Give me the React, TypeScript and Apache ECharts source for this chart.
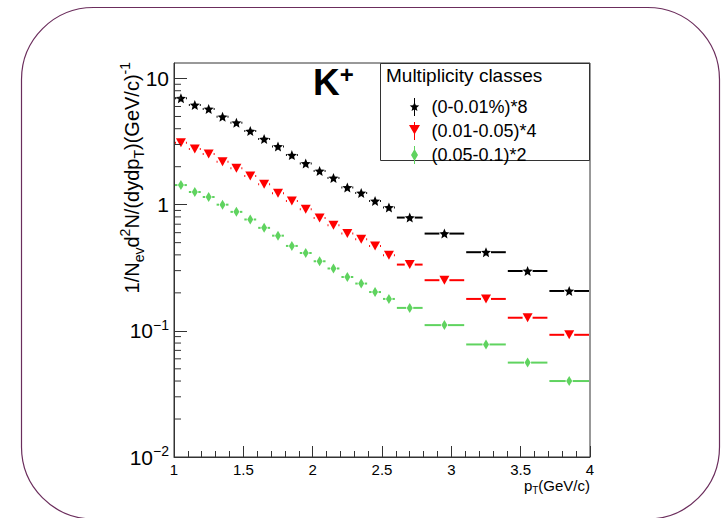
import React, { useEffect, useRef } from "react";
import * as echarts from "echarts";

// pT bin edges (GeV/c)
const ptBinEdges = [1.0, 1.1, 1.2, 1.3, 1.4, 1.5, 1.6, 1.7, 1.8, 1.9, 2.0, 2.1, 2.2, 2.3, 2.4, 2.5, 2.6, 2.8, 3.1, 3.4, 3.7, 4.0];

const seriesNames = ["(0-0.01%)*8", "(0.01-0.05)*4", "(0.05-0.1)*2"];
const seriesColors = ["#000000", "#ff0000", "#5fd35f"];

// scaled yields per class
const yieldClass1 = [6.97, 6.16, 5.73, 4.97, 4.46, 3.83, 3.31, 2.89, 2.47, 2.12, 1.85, 1.63, 1.37, 1.24, 1.07, 0.95, 0.79, 0.59, 0.42, 0.298, 0.207];
const yieldClass2 = [3.09, 2.76, 2.52, 2.19, 1.94, 1.69, 1.45, 1.23, 1.07, 0.92, 0.785, 0.688, 0.59, 0.532, 0.471, 0.397, 0.335, 0.252, 0.179, 0.127, 0.093];
const yieldClass3 = [1.43, 1.26, 1.15, 1.0, 0.877, 0.763, 0.655, 0.568, 0.471, 0.414, 0.356, 0.312, 0.267, 0.237, 0.203, 0.179, 0.152, 0.111, 0.078, 0.056, 0.040];

const yMajorLabels: Record<string, string> = {
  "-2": "10{s|−2}",
  "-1": "10{s|−1}",
  "0": "1",
  "1": "10",
};

const FONT = "Liberation Sans, Arial, Helvetica, sans-serif";

const starPath =
  "path://M0,-10L2.645,-3.64L9.51,-3.09L4.28,1.39L5.878,8.09L0,4.5L-5.878,8.09L-4.28,1.39L-9.51,-3.09L-2.645,-3.64Z";
const legendIcons = [
  "path://M6,4L7.32,7.18L10.76,7.45L8.14,9.70L8.94,13.05L6,11.25L3.06,13.05L3.86,9.70L1.24,7.45L4.68,7.18ZM5.5,0H6.5V18H5.5Z",
  "path://M0.5,3H11.5L6,12.5ZM5.5,0H6.5V18H5.5Z",
  "path://M6,3L9.5,9L6,15L2.5,9ZM5.5,0H6.5V18H5.5Z",
];

export default function App() {
  const ref = useRef<HTMLDivElement>(null);

  useEffect(() => {
    if (!ref.current) return;
    const chart = echarts.init(ref.current, undefined, { renderer: "svg" });

    const centers = ptBinEdges.slice(0, -1).map((e, i) => (e + ptBinEdges[i + 1]) / 2);
    const allYields = [yieldClass1, yieldClass2, yieldClass3];

    // log minor ticks 2..9 x 10^n
    const yMinorTicks: number[] = [];
    for (let n = -2; n <= 1; n++) {
      for (let k = 2; k <= 9; k++) {
        const v = k * Math.pow(10, n);
        if (v < 13.27) yMinorTicks.push(v);
      }
    }

    const gaps = [5, 5, 3.5];
    const symbols: any[] = [starPath, "triangle", "diamond"];
    const symbolSizes: any[] = [10, [10, 9], [6, 10]];
    const symbolRotates = [0, 180, 0];

    const errSeries = allYields.map((vals, s) => ({
      type: "custom",
      name: "err" + s,
      silent: true,
      clip: false,
      z: 3,
      dimensions: ["x", "y", "lo", "hi"],
      encode: { x: 0, y: 1 },
      data: vals.map((v, i) => [centers[i], v, ptBinEdges[i], ptBinEdges[i + 1]]),
      renderItem: (params: any, api: any) => {
        const c = api.coord([api.value(0), api.value(1)]);
        const lo = api.coord([api.value(2), api.value(1)]);
        const hi = api.coord([api.value(3), api.value(1)]);
        const st = { stroke: seriesColors[s], lineWidth: 2 };
        return {
          type: "group",
          children: [
            { type: "line", shape: { x1: lo[0] + 1, y1: c[1], x2: c[0] - gaps[s], y2: c[1] }, style: st },
            { type: "line", shape: { x1: c[0] + gaps[s], y1: c[1], x2: hi[0] - 1, y2: c[1] }, style: st },
          ],
        };
      },
    }));

    const markerSeries = allYields.map((vals, s) => ({
      type: "scatter",
      name: seriesNames[s],
      z: 4,
      symbol: symbols[s],
      symbolSize: symbolSizes[s],
      symbolRotate: symbolRotates[s],
      itemStyle: { color: seriesColors[s], opacity: 1 },
      data: vals.map((v, i) => [centers[i], v]),
    }));

    const minorTickSeries = {
      type: "custom",
      name: "yminor",
      silent: true,
      clip: false,
      z: 5,
      encode: { x: 0, y: 1 },
      data: yMinorTicks.map((v) => [1, v]),
      renderItem: (params: any, api: any) => {
        const p = api.coord([api.value(0), api.value(1)]);
        return {
          type: "line",
          shape: { x1: p[0], y1: p[1], x2: p[0] + 7, y2: p[1] },
          style: { stroke: "#333", lineWidth: 1 },
        };
      },
    };

    const option: any = {
      animation: false,
      backgroundColor: "#ffffff",
      textStyle: { fontFamily: FONT },
      grid: {
        left: 174,
        right: 131,
        top: 63,
        bottom: 61,
        show: true,
        borderColor: "#333",
        borderWidth: 1,
        backgroundColor: "transparent",
      },
      xAxis: {
        type: "value",
        min: 1,
        max: 4,
        interval: 0.5,
        axisLine: { show: true, lineStyle: { color: "#333", width: 1 } },
        axisTick: { show: true, inside: true, length: 11, lineStyle: { color: "#333" } },
        minorTick: { show: true, splitNumber: 5, length: 6, lineStyle: { color: "#333" } },
        splitLine: { show: false },
        axisLabel: {
          fontSize: 15,
          fontFamily: FONT,
          color: "#000",
          margin: 5,
          formatter: (v: number) => String(v),
        },
      },
      yAxis: {
        type: "log",
        logBase: 10,
        min: 0.01,
        max: 13.27,
        axisLine: { show: true, lineStyle: { color: "#333", width: 1 } },
        axisTick: { show: true, inside: true, length: 13, lineStyle: { color: "#333" } },
        splitLine: { show: false },
        axisLabel: {
          fontSize: 21,
          fontFamily: FONT,
          color: "#000",
          margin: 5,
          showMaxLabel: false,
          lineHeight: 26,
          formatter: (v: number) => {
            const k = String(Math.round(Math.log10(v)));
            return yMajorLabels[k] ?? "";
          },
          rich: {
            s: { fontSize: 14, lineHeight: 14, verticalAlign: "top", fontFamily: FONT, color: "#000" },
          },
        },
      },
      legend: {
        orient: "vertical",
        left: 404,
        top: 93,
        itemWidth: 12,
        itemHeight: 18,
        itemGap: 6,
        selectedMode: false,
        data: seriesNames.map((n, i) => ({ name: n, icon: legendIcons[i] })),
        textStyle: { fontSize: 18, fontFamily: FONT, color: "#000", padding: [0, 0, 0, 6], lineHeight: 18 },
      },
      graphic: [
        {
          type: "rect",
          silent: true,
          shape: { x: 21.5, y: 7.5, width: 698, height: 511.5, r: 72 },
          style: { fill: "none", stroke: "#6b2d5c", lineWidth: 1.2 },
        },
        {
          type: "rect",
          silent: true,
          shape: { x: 380.5, y: 63.5, width: 209, height: 97 },
          style: { fill: "none", stroke: "#333", lineWidth: 1 },
        },
        {
          type: "text",
          silent: true,
          x: 386,
          y: 75,
          style: {
            text: "Multiplicity classes",
            fontSize: 19,
            fontFamily: FONT,
            fill: "#000",
            align: "left",
            verticalAlign: "middle",
          },
        },
        {
          type: "text",
          silent: true,
          x: 313,
          y: 82,
          style: {
            text: "{k|K}{p|+}",
            fill: "#000",
            align: "left",
            verticalAlign: "middle",
            rich: {
              k: { fontSize: 37, fontWeight: "bold", fontFamily: FONT, lineHeight: 40, fill: "#000" },
              p: { fontSize: 24, fontWeight: "bold", fontFamily: FONT, lineHeight: 24, verticalAlign: "top", fill: "#000" },
            },
          },
        },
        {
          type: "text",
          silent: true,
          x: 132,
          y: 62,
          rotation: Math.PI / 2,
          style: {
            text: "1/N{sub|ev}d{sup|2}N/(dydp{sub|T})(GeV/c){sup|-1}",
            fontSize: 20,
            fontFamily: FONT,
            fill: "#000",
            align: "right",
            verticalAlign: "middle",
            lineHeight: 28,
            rich: {
              sub: { fontSize: 14, lineHeight: 14, verticalAlign: "bottom", fontFamily: FONT, fill: "#000" },
              sup: { fontSize: 14, lineHeight: 14, verticalAlign: "top", fontFamily: FONT, fill: "#000" },
            },
          },
        },
        {
          type: "text",
          silent: true,
          x: 590,
          y: 485,
          style: {
            text: "p{sub|T}(GeV/c)",
            fontSize: 15,
            fontFamily: FONT,
            fill: "#000",
            align: "right",
            verticalAlign: "middle",
            lineHeight: 20,
            rich: {
              sub: { fontSize: 10, lineHeight: 10, verticalAlign: "bottom", fontFamily: FONT, fill: "#000" },
            },
          },
        },
      ],
      series: [...errSeries, ...markerSeries, minorTickSeries],
    };

    chart.setOption(option);
    return () => chart.dispose();
  }, []);

  return (
    <div
      ref={ref}
      style={{ position: "absolute", left: 0, top: 0, width: 721, height: 518 }}
    />
  );
}
